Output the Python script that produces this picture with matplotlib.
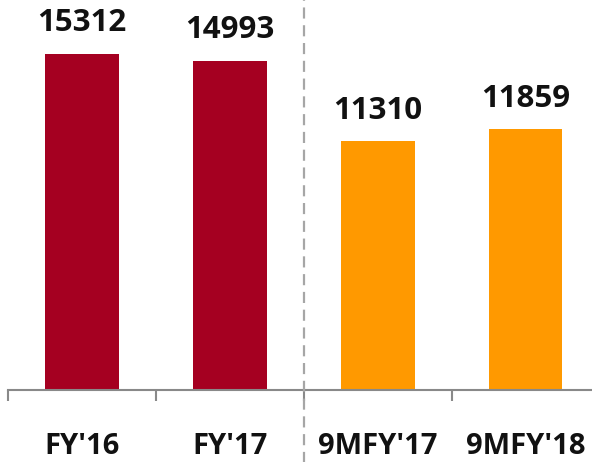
import matplotlib
matplotlib.use("Agg")
import matplotlib.pyplot as plt

categories = ["FY'16", "FY'17", "9MFY'17", "9MFY'18"]
values = [15312, 14993, 11310, 11859]
colors = ["#A50021", "#A50021", "#FF9900", "#FF9900"]

plt.rcParams['font.family'] = ['Open Sans', 'DejaVu Sans']

fig = plt.figure(figsize=(5.92, 4.62), dpi=100)
ax = fig.add_axes([8/592, 72/462, 1 - 8/592, 390/462])

x = list(range(len(categories)))
ax.bar(x, values, width=0.5, color=colors, zorder=2)

for xi, v in zip(x, values):
    ax.annotate(f"{v}", (xi, v), xytext=(0, 11), textcoords="offset points",
                ha="center", va="bottom", fontsize=22.5, fontweight="bold", color="#111111")

ax.set_xlim(-0.5, 3.45)
ax.set_ylim(0, 17750)

for s in ["top", "right", "left"]:
    ax.spines[s].set_visible(False)
ax.spines["bottom"].set_color("#898989")
ax.spines["bottom"].set_linewidth(1.5)
ax.set_yticks([])
ax.set_xticks([-0.5, 0.5, 1.5, 2.5])
ax.set_xticklabels([])
ax.tick_params(axis="x", length=8, width=1.5, color="#898989", direction="out")

for xi, c in zip(x, categories):
    ax.text(xi, -0.145, c, transform=ax.get_xaxis_transform(), ha="center", va="center",
            fontsize=21, fontweight="bold", color="#111111")

ax.axvline(1.5, ymin=-0.19, ymax=1.0, clip_on=False, color="#A6A6A6",
           linewidth=1.6, linestyle=(0, (5, 3)), zorder=3)

fig.savefig("out.png", dpi=100)
